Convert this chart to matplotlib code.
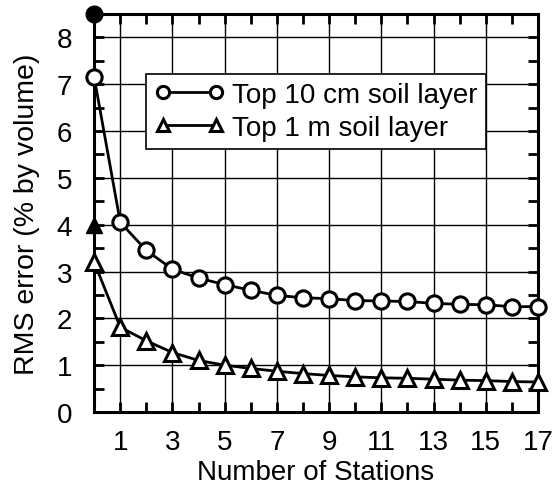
import matplotlib.pyplot as plt
from matplotlib.ticker import MultipleLocator, FixedLocator

plt.rcParams['font.family'] = ['Liberation Sans', 'DejaVu Sans']

# data
stations = list(range(0, 18))
top10cm = [7.15, 4.05, 3.45, 3.05, 2.86, 2.72, 2.6, 2.49, 2.44, 2.42,
           2.38, 2.37, 2.36, 2.32, 2.3, 2.29, 2.25, 2.25]
top1m = [3.2, 1.81, 1.52, 1.27, 1.1, 1.0, 0.93, 0.87, 0.82, 0.78,
         0.75, 0.73, 0.72, 0.7, 0.68, 0.67, 0.65, 0.64]
# filled markers at zero stations
zero_x = [0]
zero_10cm = [8.5]
zero_1m = [4.0]

fig = plt.figure(figsize=(5.54, 4.85), dpi=100)
ax = fig.add_axes([0.17, 0.1485, 0.801, 0.8205])

ax.plot(stations, top10cm, color='black', lw=2, marker='o', ms=11,
        mfc='white', mec='black', mew=2.2, label='Top 10 cm soil layer',
        zorder=3, clip_on=False)
ax.plot(stations, top1m, color='black', lw=2, marker='^', ms=11,
        mfc='white', mec='black', mew=2.2, label='Top 1 m soil layer',
        zorder=3, clip_on=False)
ax.plot(zero_x, zero_10cm, 'o', color='black', ms=12, zorder=4,
        clip_on=False)
ax.plot(zero_x, zero_1m, '^', color='black', ms=12, zorder=4,
        clip_on=False)

ax.set_xlim(0, 17)
ax.set_ylim(0, 8.5)
ax.xaxis.set_major_locator(FixedLocator(range(1, 18, 2)))
ax.xaxis.set_minor_locator(FixedLocator(range(0, 18, 2)))
ax.yaxis.set_major_locator(MultipleLocator(1))
ax.yaxis.set_minor_locator(MultipleLocator(0.5))
ax.grid(True, which='major', color='black', lw=1)
ax.tick_params(which='both', direction='in', top=True, right=True,
               width=2, labelsize=20)
ax.tick_params(which='major', length=7)
ax.tick_params(which='minor', length=7)
ax.tick_params(axis='x', pad=12)
ax.tick_params(axis='y', pad=16)
for s in ax.spines.values():
    s.set_linewidth(2.2)

ax.set_xlabel('Number of Stations', fontsize=20, labelpad=3)
ax.set_ylabel('RMS error (% by volume)', fontsize=20.5, labelpad=12)

leg = ax.legend(loc='upper left', bbox_to_anchor=(0.117, 0.85),
                fontsize=20, frameon=True, fancybox=False,
                edgecolor='black', framealpha=1, handlelength=2.5,
                handletextpad=0.3, borderpad=0.3, labelspacing=0.25,
                borderaxespad=0, markerscale=0.8, numpoints=2)
leg.get_frame().set_linewidth(1.2)

plt.savefig('out.png', dpi=100)
